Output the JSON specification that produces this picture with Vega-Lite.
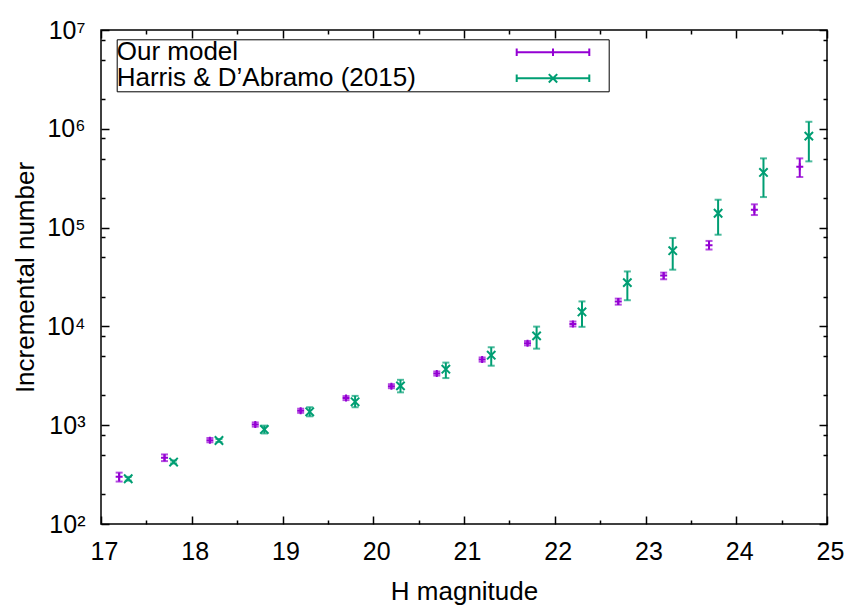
{
  "$schema": "https://vega.github.io/schema/vega-lite/v6.json",
  "width": 726,
  "height": 494,
  "autosize": {"type": "none"},
  "padding": {"left": 101, "top": 30, "right": 22, "bottom": 81},
  "background": "white",
  "config": {
    "font": "Liberation Sans",
    "view": {"stroke": "black", "strokeWidth": 1.5},
    "axis": {
      "grid": false,
      "domain": false,
      "labelFont": "Liberation Sans",
      "labelFontSize": 25,
      "labelColor": "black",
      "titleFont": "Liberation Sans",
      "titleFontSize": 26,
      "titleFontWeight": "normal",
      "titleColor": "black",
      "tickColor": "black",
      "tickWidth": 1.5
    }
  },
  "data": {
    "values": [
      {"series": "Our model", "H": 17.2, "N": 300, "lo": 269, "hi": 331},
      {"series": "Our model", "H": 17.7, "N": 468, "lo": 433, "hi": 506},
      {"series": "Our model", "H": 18.2, "N": 706, "lo": 672, "hi": 742},
      {"series": "Our model", "H": 18.7, "N": 1016, "lo": 968, "hi": 1066},
      {"series": "Our model", "H": 19.2, "N": 1400, "lo": 1335, "hi": 1468},
      {"series": "Our model", "H": 19.7, "N": 1880, "lo": 1795, "hi": 1970},
      {"series": "Our model", "H": 20.2, "N": 2483, "lo": 2370, "hi": 2600},
      {"series": "Our model", "H": 20.7, "N": 3335, "lo": 3180, "hi": 3495},
      {"series": "Our model", "H": 21.2, "N": 4617, "lo": 4400, "hi": 4845},
      {"series": "Our model", "H": 21.7, "N": 6760, "lo": 6430, "hi": 7100},
      {"series": "Our model", "H": 22.2, "N": 10590, "lo": 10000, "hi": 11200},
      {"series": "Our model", "H": 22.7, "N": 17820, "lo": 16600, "hi": 19100},
      {"series": "Our model", "H": 23.2, "N": 32660, "lo": 30000, "hi": 35000},
      {"series": "Our model", "H": 23.7, "N": 66200, "lo": 60000, "hi": 73300},
      {"series": "Our model", "H": 24.2, "N": 151800, "lo": 134000, "hi": 172000},
      {"series": "Our model", "H": 24.7, "N": 413000, "lo": 325000, "hi": 502000},
      {"series": "Harris & D’Abramo (2015)", "H": 17.3, "N": 287, "lo": 275, "hi": 300},
      {"series": "Harris & D’Abramo (2015)", "H": 17.8, "N": 424, "lo": 410, "hi": 440},
      {"series": "Harris & D’Abramo (2015)", "H": 18.3, "N": 700, "lo": 675, "hi": 725},
      {"series": "Harris & D’Abramo (2015)", "H": 18.8, "N": 905, "lo": 825, "hi": 990},
      {"series": "Harris & D’Abramo (2015)", "H": 19.3, "N": 1366, "lo": 1230, "hi": 1520},
      {"series": "Harris & D’Abramo (2015)", "H": 19.8, "N": 1726, "lo": 1520, "hi": 1980},
      {"series": "Harris & D’Abramo (2015)", "H": 20.3, "N": 2500, "lo": 2150, "hi": 2880},
      {"series": "Harris & D’Abramo (2015)", "H": 20.8, "N": 3690, "lo": 3000, "hi": 4300},
      {"series": "Harris & D’Abramo (2015)", "H": 21.3, "N": 5117, "lo": 4000, "hi": 6150},
      {"series": "Harris & D’Abramo (2015)", "H": 21.8, "N": 8020, "lo": 5950, "hi": 9950},
      {"series": "Harris & D’Abramo (2015)", "H": 22.3, "N": 14020, "lo": 9900, "hi": 17900},
      {"series": "Harris & D’Abramo (2015)", "H": 22.8, "N": 27730, "lo": 18400, "hi": 36000},
      {"series": "Harris & D’Abramo (2015)", "H": 23.3, "N": 58350, "lo": 37500, "hi": 78600},
      {"series": "Harris & D’Abramo (2015)", "H": 23.8, "N": 139700, "lo": 84700, "hi": 191500},
      {"series": "Harris & D’Abramo (2015)", "H": 24.3, "N": 362000, "lo": 203700, "hi": 502000},
      {"series": "Harris & D’Abramo (2015)", "H": 24.8, "N": 843000, "lo": 468000, "hi": 1178000}
    ]
  },
  "layer": [
    {
      "mark": {"type": "rule", "strokeWidth": 2},
      "encoding": {
        "x": {
          "field": "H", "type": "quantitative",
          "scale": {"domain": [17, 25], "nice": false, "zero": false},
          "axis": {
            "orient": "bottom",
            "values": [17, 17.5, 18, 18.5, 19, 19.5, 20, 20.5, 21, 21.5, 22, 22.5, 23, 23.5, 24, 24.5, 25],
            "tickSize": {"condition": {"test": "datum.value % 1 === 0", "value": -8}, "value": -4},
            "labelExpr": "datum.value % 1 === 0 ? format(datum.value, 'd') : ''",
            "labelPadding": 23,
            "labelOffset": 3,
            "labelFlush": false,
            "labelOverlap": false,
            "title": "H magnitude",
            "titleX": 363,
            "titleY": 75,
            "titleBaseline": "alphabetic",
            "titleAlign": "center"
          }
        },
        "y": {
          "field": "lo", "type": "quantitative",
          "scale": {"type": "log", "domain": [100, 10000000], "nice": false},
          "axis": {
            "orient": "left",
            "values": [100, 200, 500, 800, 1000, 2000, 5000, 8000, 10000, 20000, 50000, 80000, 100000, 200000, 500000, 800000, 1000000, 2000000, 5000000, 8000000, 10000000],
            "tickSize": {"condition": {"test": "abs(log(datum.value)/LN10 - round(log(datum.value)/LN10)) < 0.001", "value": -8}, "value": -4},
            "labelExpr": "abs(log(datum.value)/LN10 - round(log(datum.value)/LN10)) < 0.001 ? '10' + ['⁰','¹','²','³','⁴','⁵','⁶','⁷'][round(log(datum.value)/LN10)] : ''",
            "labelPadding": 24,
            "labelFlush": false,
            "labelOverlap": false,
            "title": "Incremental number",
            "titleX": -68,
            "titleY": 247,
            "titleAngle": -90,
            "titleBaseline": "alphabetic",
            "titleAlign": "center"
          }
        },
        "y2": {"field": "hi"},
        "color": {
          "field": "series", "type": "nominal",
          "scale": {"domain": ["Our model", "Harris & D’Abramo (2015)"], "range": ["#9400d3", "#009e73"]},
          "legend": {
            "orient": "none",
            "legendX": 15.7,
            "legendY": 9.3,
            "title": null,
            "padding": 0,
            "rowPadding": 0,
            "strokeColor": "black",
            "fillColor": "white",
            "labelFont": "Liberation Sans",
            "labelFontSize": 26,
            "labelColor": "black",
            "labelLimit": 500,
            "labelOffset": -26,
            "symbolSize": 400,
            "symbolStrokeWidth": 2,
            "encode": {
              "symbols": {
                "update": {
                  "shape": {"signal": "datum.value === 'Our model' ? 'M38.7,0H45.96M38.7,-0.38V0.38M45.96,-0.38V0.38M42.33,-0.38V0.38M47.5,0' : 'M38.7,0H45.96M38.7,-0.38V0.38M45.96,-0.38V0.38M41.91,-0.42L42.75,0.42M41.91,0.42L42.75,-0.42M47.5,0'"},
                  "stroke": {"signal": "datum.value === 'Our model' ? '#9400d3' : '#009e73'"},
                  "fill": {"value": "transparent"},
                  "strokeWidth": {"value": 2}
                }
              }
            }
          }
        }
      }
    },
    {
      "mark": {"type": "tick", "orient": "horizontal", "size": 7, "thickness": 2},
      "encoding": {
        "x": {"field": "H", "type": "quantitative", "axis": null},
        "y": {"field": "lo", "type": "quantitative", "axis": null},
        "color": {"field": "series", "type": "nominal"}
      }
    },
    {
      "mark": {"type": "tick", "orient": "horizontal", "size": 7, "thickness": 2},
      "encoding": {
        "x": {"field": "H", "type": "quantitative", "axis": null},
        "y": {"field": "hi", "type": "quantitative", "axis": null},
        "color": {"field": "series", "type": "nominal"}
      }
    },
    {
      "transform": [{"filter": "datum.series === 'Our model'"}],
      "mark": {"type": "point", "filled": false, "strokeWidth": 2, "opacity": 1, "size": 49, "shape": "M-1,0H1M0,-1V1", "color": "#9400d3"},
      "encoding": {
        "x": {"field": "H", "type": "quantitative", "axis": null},
        "y": {"field": "N", "type": "quantitative", "axis": null}
      }
    },
    {
      "transform": [{"filter": "datum.series !== 'Our model'"}],
      "mark": {"type": "point", "filled": false, "strokeWidth": 2, "opacity": 1, "size": 70, "shape": "M-1,-1L1,1M-1,1L1,-1", "color": "#009e73"},
      "encoding": {
        "x": {
          "field": "H", "type": "quantitative",
          "axis": {
            "orient": "top",
            "values": [17, 17.5, 18, 18.5, 19, 19.5, 20, 20.5, 21, 21.5, 22, 22.5, 23, 23.5, 24, 24.5, 25],
            "tickSize": {"condition": {"test": "datum.value % 1 === 0", "value": -8}, "value": -4},
            "labels": false,
            "title": null
          }
        },
        "y": {
          "field": "N", "type": "quantitative",
          "axis": {
            "orient": "right",
            "values": [100, 200, 500, 800, 1000, 2000, 5000, 8000, 10000, 20000, 50000, 80000, 100000, 200000, 500000, 800000, 1000000, 2000000, 5000000, 8000000, 10000000],
            "tickSize": {"condition": {"test": "abs(log(datum.value)/LN10 - round(log(datum.value)/LN10)) < 0.001", "value": -8}, "value": -4},
            "labels": false,
            "title": null
          }
        }
      }
    }
  ],
  "resolve": {"axis": {"x": "independent", "y": "independent"}}
}
